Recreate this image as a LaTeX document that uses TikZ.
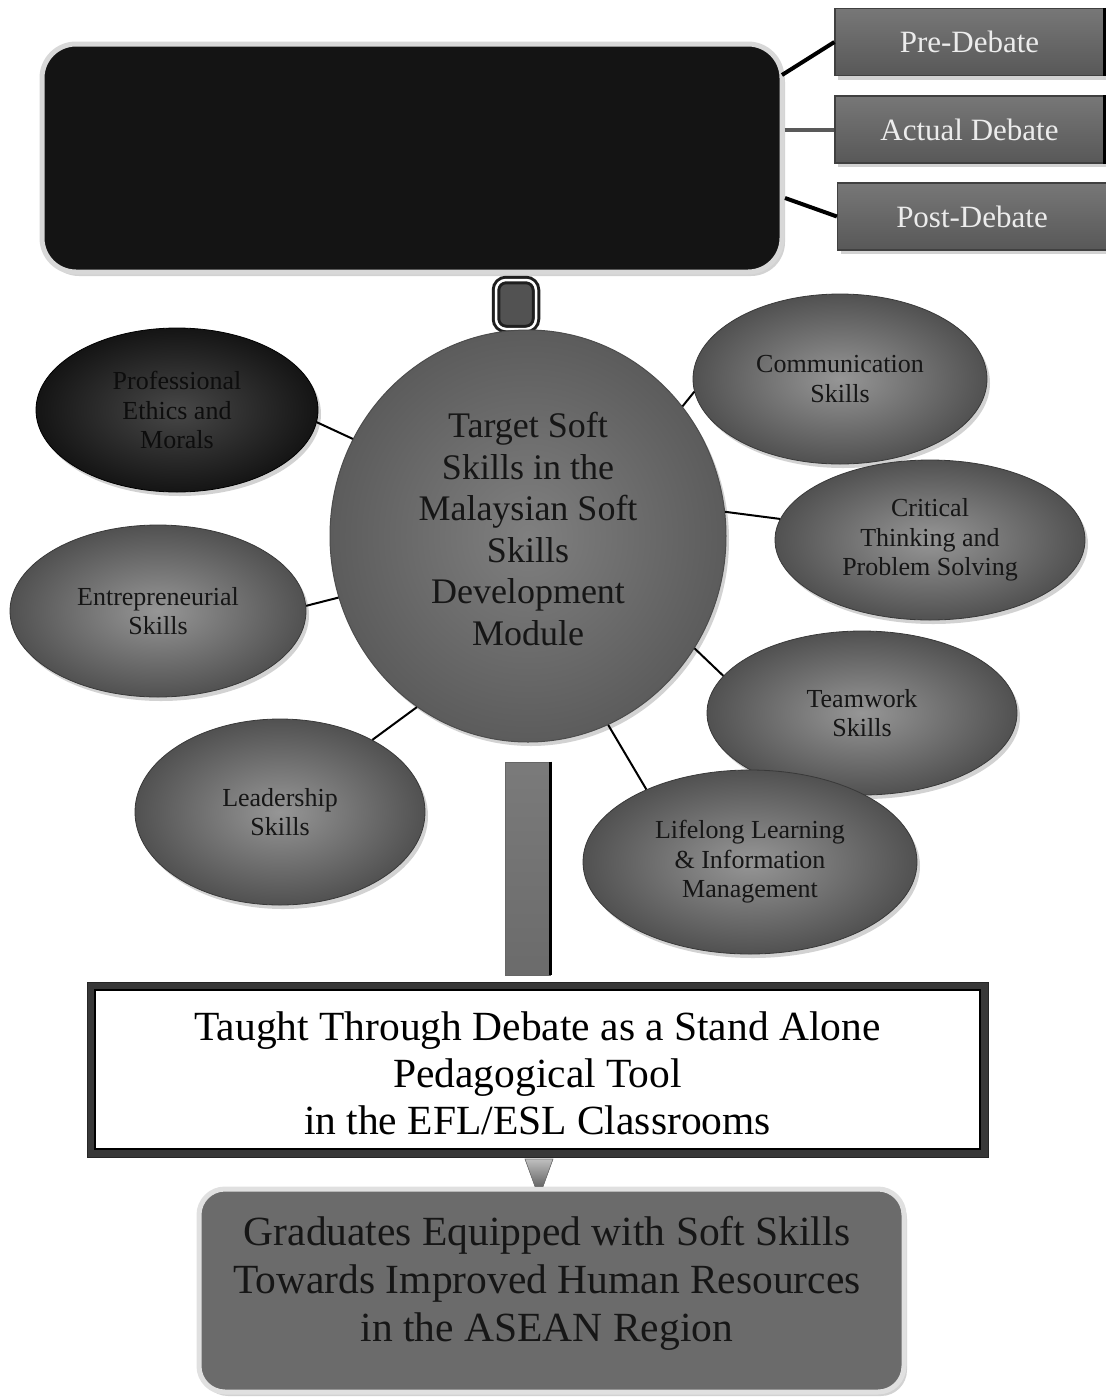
\documentclass[tikz,border=0pt]{standalone}
\usepackage{fontspec}
\setmainfont{Liberation Serif}
\usetikzlibrary{shapes.geometric,shadows}
\definecolor{bbfill}{HTML}{141414}
\definecolor{bbline}{HTML}{D8D8D8}
\definecolor{elin}{HTML}{969696}
\definecolor{elout}{HTML}{515151}
\definecolor{txtdark}{HTML}{161616}
\definecolor{stgtop}{HTML}{777777}
\definecolor{stgbot}{HTML}{585858}
\definecolor{stgtxt}{HTML}{ECECEC}
\definecolor{gradfill}{HTML}{6B6B6B}
\tikzset{
  softshadow/.style={drop shadow={opacity=0.35,shadow xshift=3pt,shadow yshift=-4pt}},
  skill/.style={ellipse, inner sep=0pt, shade, inner color=elin, outer color=elout,
    draw=elout!70!black, line width=0.8pt, align=center, text=txtdark,
    font=\fontsize{26}{29.5}\selectfont, softshadow},
  darkskill/.style={skill, inner color=black!72, outer color=black!92, draw=black, text=black!95},
  stagebox/.style={rectangle, minimum width=269pt, minimum height=67pt, inner sep=0pt,
    top color=stgtop, bottom color=stgbot, draw=black!75, line width=1.2pt,
    text=stgtxt, font=\fontsize{31}{34}\selectfont, softshadow},
  thinlink/.style={draw=black, line width=2pt},
  stagelink/.style={line width=4pt}
}
\begin{document}
\begin{tikzpicture}[x=1pt,y=-1pt]
\useasboundingbox (0,0) rectangle (1106,1398);
\fill[white] (0,0) rectangle (1106,1398);

% top black box
\node[rectangle, rounded corners=34pt, minimum width=740pt, minimum height=228pt, inner sep=0pt,
  fill=bbfill, draw=bbline, line width=5pt, softshadow] (bb) at (412,158) {};

% stage boxes
\node[stagebox] (pre) at (969.5,42) {Pre-Debate};
\node[stagebox] (act) at (969.5,129.5) {Actual Debate};
\node[stagebox] (post) at (972,216.5) {Post-Debate};
\draw[black, line width=2.5pt] (pre.north east) -- (pre.south east);
\draw[black, line width=2.5pt] (act.north east) -- (act.south east);
\coordinate (bbA) at (782,75);
\coordinate (bbC) at (785,198);
\draw[stagelink, black] (bbA) -- (pre.west);
\draw[stagelink, black!65] (act.west -| bb.east) -- (act.west);
\draw[stagelink, black] (bbC) -- (post.west);

% small connector square
\node[rectangle, rounded corners=10pt, minimum width=40pt, minimum height=49pt, inner sep=0pt,
  fill=black!68, draw=black!88, line width=3pt, double=white, double distance=2.5pt] (knot) at (516,304.5) {};

% central circle
\node[ellipse, inner sep=0pt, minimum width=396pt, minimum height=412pt,
  shade, inner color=black!50, outer color=black!64, draw=black!70, line width=1pt,
  softshadow] (core) at (528,536) {};
\node[align=center, text=txtdark, font=\fontsize{36}{41.6}\selectfont, inner sep=0pt] (coretext) at (528,529)
  {Target Soft\\Skills in the\\Malaysian Soft\\Skills\\Development\\Module};

% skill ellipses
\node[darkskill, minimum width=282pt, minimum height=164pt] (prof) at (177,410) {Professional\\Ethics and\\Morals};
\node[skill, minimum width=294pt, minimum height=170pt] (comm) at (840,379) {Communication\\Skills};
\node[skill, minimum width=310pt, minimum height=160pt] (crit) at (930,540) {Critical\\Thinking and\\Problem Solving};
\node[skill, minimum width=296pt, minimum height=172pt] (entr) at (158,611) {Entrepreneurial\\Skills};
\node[skill, minimum width=310pt, minimum height=164pt] (team) at (862,713) {Teamwork\\Skills};
\node[skill, minimum width=290pt, minimum height=186pt] (lead) at (280,812) {Leadership\\Skills};
\node[skill, minimum width=334pt, minimum height=184pt] (life) at (750,862) {Lifelong Learning\\\&{} Information\\Management};

% skill connectors
\draw[thinlink] (prof.-5) -- (core.151.5);
\draw[thinlink] (entr.2.7) -- (core.198.6);
\draw[thinlink] (lead.38.8) -- (core.237.6);
\draw[thinlink] (comm.185.7) -- (core.40.5);
\draw[thinlink] (crit.172.6) -- (core.7.7);
\draw[thinlink] (team.165.8) -- (core.-34.9);
\draw[thinlink] (life.145.5) -- (core.-67.2);

% vertical bar
\node[rectangle, minimum width=45pt, minimum height=213pt, inner sep=0pt,
  top color=black!52, bottom color=black!58, draw=black!60, line width=0.8pt] (bar) at (527.5,868.5) {};
\draw[black, line width=2.5pt] (bar.north east) -- (bar.south east);

% taught box
\node[rectangle, minimum width=901pt, minimum height=175pt, inner sep=0pt,
  fill=black!78, draw=black!85, line width=1pt] (taughtouter) at (537.5,1069.5) {};
\node[rectangle, minimum width=885pt, minimum height=159pt, inner sep=0pt,
  fill=white, draw=black, line width=2pt] (taught) at (537.5,1069.5) {};
\node[align=center, text=black, inner sep=0pt, font=\fontsize{41.5}{47}\selectfont] (taughttext) at (537.5,1073)
  {Taught Through Debate as a Stand Alone\\Pedagogical Tool\\in the EFL/ESL Classrooms};

% graduates box
\node[rectangle, rounded corners=26pt, minimum width=705pt, minimum height=203pt, inner sep=0pt,
  fill=gradfill, draw=black!12, line width=5pt, softshadow] (grad) at (551.5,1290.5) {};
\node[align=center, text=txtdark, inner sep=0pt, font=\fontsize{41.5}{48}\selectfont] (gradtext) at (547,1283)
  {Graduates Equipped with Soft Skills\\Towards Improved Human Resources\\in the ASEAN Region};

% down arrow
\coordinate (arrT) at (539,1159);
\filldraw[top color=black!25, bottom color=black!60, draw=black!55, line width=0.6pt]
  ([xshift=-14pt]arrT) -- ([xshift=14pt]arrT) -- ([xshift=4pt]arrT |- grad.north) -- ([xshift=-4pt]arrT |- grad.north) -- cycle;
\end{tikzpicture}
\end{document}
